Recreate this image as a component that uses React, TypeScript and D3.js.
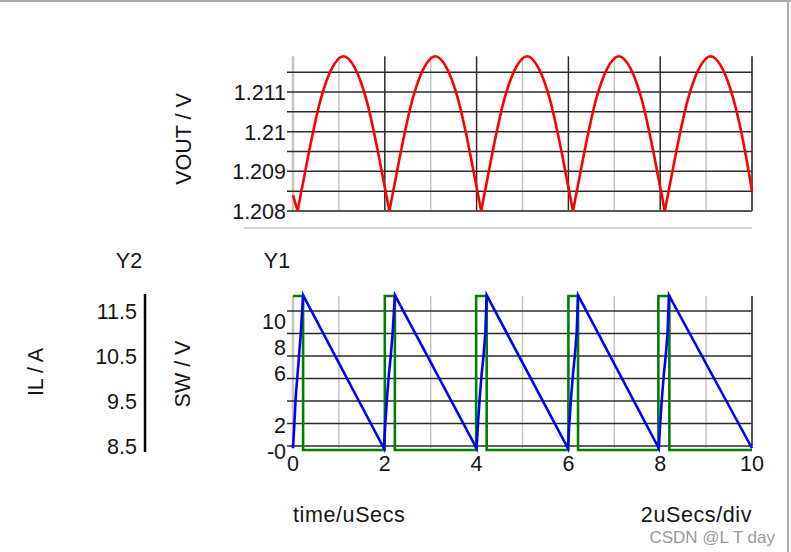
import React from "react";
import * as d3 from "d3";

// ---------- data ----------
const voutT = [0, 0.1, 0.2, 0.35, 0.6, 0.85, 1.1, 1.35, 1.6, 1.85, 2.0,
  2.1, 2.2, 2.35, 2.6, 2.85, 3.1, 3.35, 3.6, 3.85, 4.0,
  4.1, 4.2, 4.35, 4.6, 4.85, 5.1, 5.35, 5.6, 5.85, 6.0,
  6.1, 6.2, 6.35, 6.6, 6.85, 7.1, 7.35, 7.6, 7.85, 8.0,
  8.1, 8.2, 8.35, 8.6, 8.85, 9.1, 9.35, 9.6, 9.85, 10.0];
const voutV = [1.2084, 1.2080, 1.2086, 1.2095, 1.2108, 1.2116, 1.2119, 1.2116, 1.2108, 1.2095, 1.2086,
  1.2080, 1.2086, 1.2095, 1.2108, 1.2116, 1.2119, 1.2116, 1.2108, 1.2095, 1.2086,
  1.2080, 1.2086, 1.2095, 1.2108, 1.2116, 1.2119, 1.2116, 1.2108, 1.2095, 1.2086,
  1.2080, 1.2086, 1.2095, 1.2108, 1.2116, 1.2119, 1.2116, 1.2108, 1.2095, 1.2086,
  1.2080, 1.2086, 1.2095, 1.2108, 1.2116, 1.2119, 1.2116, 1.2108, 1.2095, 1.2085];

const ilT = [0, 0.03, 0.06, 0.1, 0.13, 0.17, 0.22,
  1.98, 2.01, 2.05, 2.09, 2.13, 2.17, 2.22,
  4.0, 4.03, 4.07, 4.11, 4.15, 4.19, 4.22,
  5.99, 6.02, 6.06, 6.1, 6.14, 6.18, 6.21,
  7.97, 8.0, 8.04, 8.08, 8.12, 8.16, 8.19,
  10.0];
const ilV = [8.45, 9.0, 9.6, 10.1, 10.5, 11.0, 11.85,
  8.45, 9.0, 9.6, 10.1, 10.5, 11.0, 11.85,
  8.45, 9.0, 9.6, 10.1, 10.5, 11.0, 11.85,
  8.45, 9.0, 9.6, 10.1, 10.5, 11.0, 11.85,
  8.45, 9.0, 9.6, 10.1, 10.5, 11.0, 11.85,
  8.45];

const swT = [0, 0.22, 2.0, 2.22, 3.99, 4.22, 6.0, 6.21, 7.96, 8.2, 10.0];
const swV = [12, 0.15, 12, 0.15, 12, 0.15, 12, 0.15, 12, 0.15, 0.15];

const timeTicks = [0, 2, 4, 6, 8, 10];
const timeMinor = [0, 1, 3, 5, 7, 9];
const timeMajor = [2, 4, 6, 8, 10];
const voutTicks = [1.208, 1.209, 1.21, 1.211];
const voutTickLabels = ["1.208", "1.209", "1.21", "1.211"];
const voutGrid = [1.208, 1.2085, 1.209, 1.2095, 1.21, 1.2105, 1.211, 1.2115];
const ilTicks = [8.5, 9.5, 10.5, 11.5];
const ilGrid = [8.5, 9, 9.5, 10, 10.5, 11, 11.5];
const swTicks = [0, 2, 6, 8, 10];
const swTickLabels = ["-0", "2", "6", "8", "10"];

const FONT = "'Liberation Sans', Arial, sans-serif";
const FS = 21.5;

export default function App() {
  const x = d3.scaleLinear().domain([0, 10]).range([293, 752]);
  const yV = d3.scaleLinear().domain([1.208, 1.211]).range([211, 92]);
  const yIL = d3.scaleLinear().domain([8.5, 11.5]).range([446, 311]);
  const ySW = d3.scaleLinear().domain([0, 10]).range([452, 322]);

  // split VOUT into arches between local minima
  const vpts = voutT.map((t, i) => [t, voutV[i]] as [number, number]);
  const segs: [number, number][][] = [];
  let cur: [number, number][] = [vpts[0]];
  for (let i = 1; i < vpts.length; i++) {
    cur.push(vpts[i]);
    const isMin = i < vpts.length - 1 && vpts[i][1] < vpts[i - 1][1] && vpts[i][1] < vpts[i + 1][1];
    if (isMin) { segs.push(cur); cur = [vpts[i]]; }
  }
  segs.push(cur);
  const vLine = d3.line<[number, number]>().x(d => x(d[0])).y(d => yV(d[1])).curve(d3.curveMonotoneX);

  const ilLine = d3.line<number>().x((_, i) => x(ilT[i])).y(d => yIL(d));
  const swLine = d3.line<number>().x((_, i) => x(swT[i])).y(d => ySW(d)).curve(d3.curveStepAfter);

  const gridDark = "#2b2b2b";
  const gridLight = "#c4c4c4";
  const txt = "#151515";
  const topTop = yV(1.2119);
  const botTop = ySW(12);

  return (
    <svg width={791} height={552} style={{ position: "absolute", left: 0, top: 0, background: "#fff" }}
      fontFamily={FONT}>
      {/* frame */}
      <line x1={0} x2={791} y1={1} y2={1} stroke="#a8a8a8" strokeWidth={2} />
      <line x1={788} x2={788} y1={0} y2={552} stroke="#b0b0b0" strokeWidth={2} />

      {/* ---------- top chart ---------- */}
      {timeMinor.map(t => (
        <line key={"tm" + t} x1={x(t)} x2={x(t)} y1={topTop} y2={yV(1.208)} stroke={gridLight} strokeWidth={t === 0 ? 2.5 : 1.5} />
      ))}
      {timeMajor.map(t => (
        <line key={"tM" + t} x1={x(t)} x2={x(t)} y1={topTop} y2={yV(1.208)} stroke={t === 10 ? "#555" : gridDark} strokeWidth={t === 10 ? 2 : 1.5} />
      ))}
      {voutGrid.map(v => (
        <line key={"vg" + v} x1={287} x2={x(10)} y1={yV(v)} y2={yV(v)} stroke={v === 1.208 ? "#555" : gridDark} strokeWidth={v === 1.208 ? 2 : 1.5} />
      ))}
      {voutTicks.map((v, i) => (
        <text key={"vt" + v} x={286} y={yV(v) + 1} textAnchor="end" dominantBaseline="central" fontSize={FS} fill={txt}>{voutTickLabels[i]}</text>
      ))}
      {segs.map((s, i) => (
        <path key={"vs" + i} d={vLine(s) || ""} fill="none" stroke="#ff0000" strokeWidth={2.6} />
      ))}
      <text transform={`translate(184,139) rotate(-90)`} textAnchor="middle" dominantBaseline="central" fontSize={FS} fill={txt}>VOUT / V</text>

      {/* separator */}
      <line x1={244} x2={752} y1={228} y2={228} stroke="#d2d2d2" strokeWidth={2} />

      {/* ---------- bottom chart ---------- */}
      <text x={129} y={268} textAnchor="middle" fontSize={FS} fill={txt}>Y2</text>
      <text x={277} y={268} textAnchor="middle" fontSize={FS} fill={txt}>Y1</text>

      {timeMinor.map(t => (
        <line key={"bm" + t} x1={x(t)} x2={x(t)} y1={botTop} y2={yIL(8.5) + 2} stroke={gridLight} strokeWidth={t === 0 ? 2.5 : 1.5} />
      ))}
      <line x1={x(10)} x2={x(10)} y1={botTop} y2={yIL(8.5)} stroke="#555" strokeWidth={2} />
      {ilGrid.map(v => (
        <line key={"ig" + v} x1={287} x2={x(10)} y1={yIL(v)} y2={yIL(v)} stroke={gridDark} strokeWidth={1.5} />
      ))}

      {/* Y2 axis */}
      <line x1={145} x2={145} y1={294} y2={452} stroke="#000" strokeWidth={2.5} />
      {ilTicks.map(v => (
        <text key={"it" + v} x={137} y={yIL(v) + 1} textAnchor="end" dominantBaseline="central" fontSize={FS} fill={txt}>{v.toFixed(1)}</text>
      ))}
      <text transform={`translate(36,372) rotate(-90)`} textAnchor="middle" dominantBaseline="central" fontSize={FS} fill={txt}>IL / A</text>
      <text transform={`translate(183,374) rotate(-90)`} textAnchor="middle" dominantBaseline="central" fontSize={FS} fill={txt}>SW / V</text>

      {/* Y1 labels */}
      {swTicks.map((v, i) => (
        <text key={"st" + v} x={286} y={ySW(v)} textAnchor="end" dominantBaseline="central" fontSize={FS} fill={txt}>{swTickLabels[i]}</text>
      ))}

      <path d={swLine(swV) || ""} fill="none" stroke="#008000" strokeWidth={2.6} />
      <path d={ilLine(ilV) || ""} fill="none" stroke="#0000ff" strokeWidth={2.6} />

      {timeTicks.map(t => (
        <text key={"xt" + t} x={x(t)} y={471} textAnchor="middle" fontSize={FS} fill={txt}>{t}</text>
      ))}

      <text x={293} y={522} fontSize={FS} letterSpacing={0.6} fill={txt}>time/uSecs</text>
      <text x={752} y={522} textAnchor="end" fontSize={FS} letterSpacing={0.6} fill={txt}>2uSecs/div</text>
      <text x={775} y={543} textAnchor="end" fontSize={17} fill="#9a9a9a">CSDN @L T day</text>
    </svg>
  );
}
